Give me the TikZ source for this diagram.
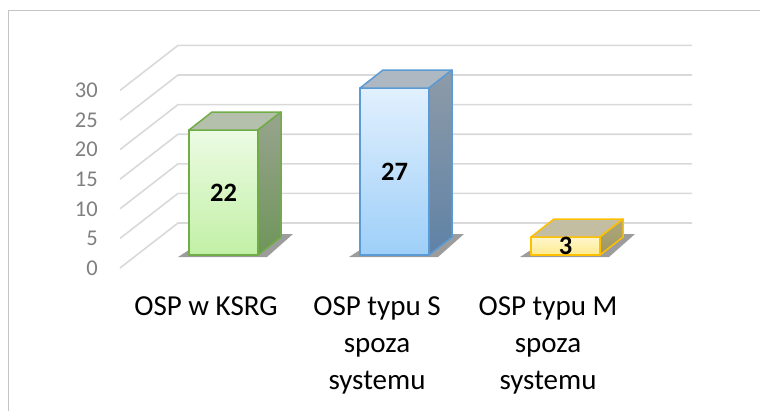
\documentclass[tikz,border=0pt]{standalone}
\usepackage{fontspec}
\setmainfont{Carlito}
\usetikzlibrary{positioning}
\definecolor{framegray}{HTML}{C4C4C4}
\definecolor{gridgray}{HTML}{D9D9D9}
\definecolor{tickgray}{HTML}{7F7F7F}
\definecolor{shadowgray}{HTML}{5A5A5A}
% green bar
\definecolor{gfront1}{HTML}{ECFBE3}\definecolor{gfront2}{HTML}{C2F0A6}
\definecolor{gedge}{HTML}{70AD47}\definecolor{gtop}{HTML}{B4C0AB}
\definecolor{gside1}{HTML}{98A48E}\definecolor{gside2}{HTML}{6F955A}
% blue bar
\definecolor{bfront1}{HTML}{E1F0FE}\definecolor{bfront2}{HTML}{9ECFF8}
\definecolor{bedge}{HTML}{5B9BD5}\definecolor{btop}{HTML}{AEB8C2}
\definecolor{bside1}{HTML}{8E9BA8}\definecolor{bside2}{HTML}{5F82A6}
% yellow bar
\definecolor{yfront1}{HTML}{FFF6CC}\definecolor{yfront2}{HTML}{FFEB8E}
\definecolor{yedge}{HTML}{FFC000}\definecolor{ytop}{HTML}{C3BEA2}
\definecolor{yside1}{HTML}{AFA87E}\definecolor{yside2}{HTML}{9E9660}
\tikzset{gridline/.style={draw=gridgray,line width=1.6pt},
  ticklabel/.style={text=tickgray,font=\fontsize{22.5}{27}\selectfont,anchor=east,inner sep=0pt},
  catlabel/.style={align=center,font=\fontsize{29}{37}\selectfont,anchor=north,inner sep=0pt},
  valuelabel/.style={font=\fontsize{26.5}{30}\selectfont\bfseries,inner sep=0pt},
  barface/.style={line width=1.5pt,line join=round} }
% #1 left, #2 top, #3 colour set (g, b, y)
\newcommand\ospbar[3]{%
  \fill[shadowgray,opacity=.6] (#1-11,257) -- (#1+78,257) -- (#1+104,234) -- (#1+25,234) -- cycle;
  \shade[top color=#3front1,bottom color=#3front2,draw=#3edge,barface] (#1,#2) rectangle (#1+69,255);
  \filldraw[draw=#3edge,fill=#3top,barface] (#1,#2) -- ++(23,-18) -- ++(69,0) -- ++(-23,18) -- cycle;
  \shade[top color=#3side1,bottom color=#3side2,draw=#3edge,barface] (#1+69,#2) -- ++(23,-18) -- (#1+92,237) -- (#1+69,255) -- cycle;
}

\begin{document}
\begin{tikzpicture}[x=1pt,y=-1pt]
    \useasboundingbox (0,0) rectangle (760,410);
    \draw[framegray,line width=1pt] (8,412) -- (8,10) -- (762,10);
    \foreach \k in {0,...,6} {
        \pgfmathsetmacro\yf{268-29.6*\k}
        \pgfmathsetmacro\yb{223-29.6*\k}
        \pgfmathtruncatemacro\v{5*\k}
        \draw[gridline] (120,\yf) -- (178,\yb) -- (692,\yb);
        \node[ticklabel] (t\k) at (98,\yf) {\v};
    }
    \ospbar{189}{130}{g}
    \ospbar{360}{88}{b}
    \ospbar{531}{237}{y}
    \node[valuelabel] (v1) at (223.5,192.5) {22};
    \node[valuelabel] (v2) at (394.5,171.5) {27};
    \node[valuelabel] (v3) at (565.5,246) {3};
    \node[catlabel] (c1) at (206,296) {OSP w KSRG};
    \node[catlabel] (c2) at (377,296) {OSP typu S\\spoza\\systemu};
    \node[catlabel] (c3) at (548,296) {OSP typu M\\spoza\\systemu};
\end{tikzpicture}
\end{document}
